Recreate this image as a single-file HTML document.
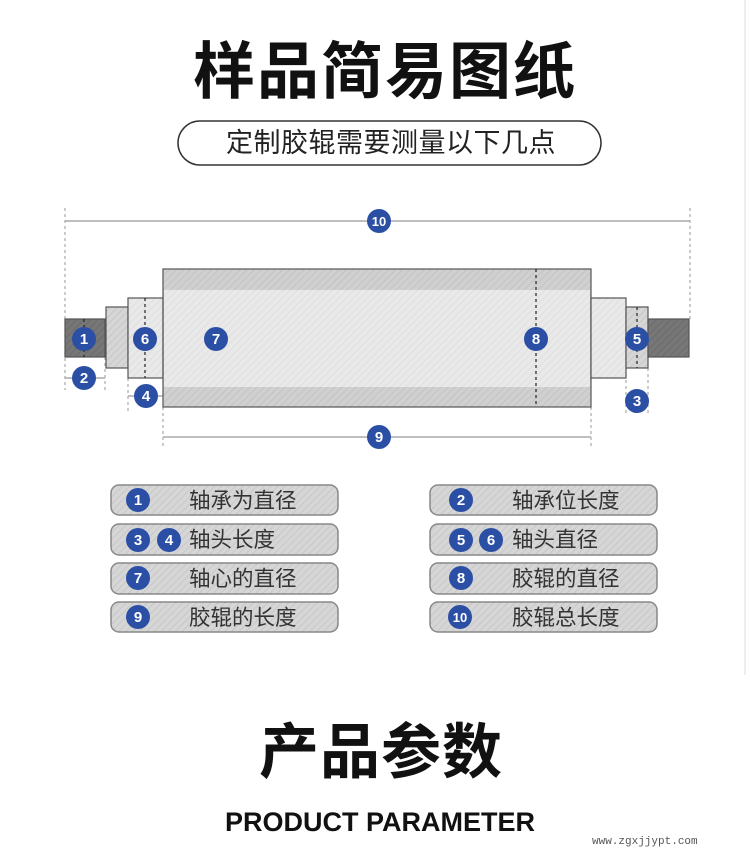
<!DOCTYPE html>
<html><head><meta charset="utf-8"><style>
body{margin:0;background:#fff;width:750px;height:861px;overflow:hidden;font-family:"Liberation Sans","Noto Sans CJK SC",sans-serif}
svg{position:absolute;left:0;top:0}
</style></head><body>
<svg width="750" height="861" viewBox="0 0 750 861" xmlns="http://www.w3.org/2000/svg" font-family="Liberation Sans, Noto Sans CJK SC, sans-serif">
<defs>
<pattern id="hl" width="5" height="5" patternUnits="userSpaceOnUse" patternTransform="rotate(45)"><rect width="5" height="5" fill="#e9e9e9"/><line x1="0" y1="0" x2="0" y2="5" stroke="#dcdcdc" stroke-width="1.5"/></pattern>
<pattern id="hm" width="5" height="5" patternUnits="userSpaceOnUse" patternTransform="rotate(45)"><rect width="5" height="5" fill="#d0d0d0"/><line x1="0" y1="0" x2="0" y2="5" stroke="#bfbfbf" stroke-width="1.5"/></pattern>
<pattern id="hd" width="5" height="5" patternUnits="userSpaceOnUse" patternTransform="rotate(45)"><rect width="5" height="5" fill="#777"/><line x1="0" y1="0" x2="0" y2="5" stroke="#666" stroke-width="1.5"/></pattern>
<pattern id="hb" width="5" height="5" patternUnits="userSpaceOnUse" patternTransform="rotate(45)"><rect width="5" height="5" fill="#d6d6d6"/><line x1="0" y1="0" x2="0" y2="5" stroke="#c2c2c2" stroke-width="1.5"/></pattern>
</defs>
<line x1="745" y1="0" x2="745" y2="675" stroke="#eee" stroke-width="2"/>
<text x="385" y="93" text-anchor="middle" font-size="62" font-weight="bold" fill="#111" letter-spacing="2">样品简易图纸</text>
<rect x="178" y="121" width="423" height="44" rx="22" fill="#fff" stroke="#333" stroke-width="1.5"/>
<text x="391" y="152" text-anchor="middle" font-size="27" fill="#222" letter-spacing="0.5">定制胶辊需要测量以下几点</text>

<g stroke="#aaa" stroke-width="1.5" fill="none">
<line x1="65" y1="221" x2="690" y2="221"/>
<line x1="163" y1="437" x2="591" y2="437"/>
<line x1="65" y1="378" x2="105" y2="378"/>
<line x1="128" y1="396" x2="163" y2="396"/>
</g>
<g stroke="#aaa" stroke-width="1.2" stroke-dasharray="3,3" fill="none">
<line x1="65" y1="208" x2="65" y2="390"/>
<line x1="690" y1="208" x2="690" y2="319"/>
<line x1="105" y1="357" x2="105" y2="390"/>
<line x1="128" y1="378" x2="128" y2="414"/>
<line x1="163" y1="407" x2="163" y2="449"/>
<line x1="591" y1="407" x2="591" y2="449"/>
<line x1="626" y1="368" x2="626" y2="414"/>
<line x1="648" y1="368" x2="648" y2="414"/>
</g>
<g stroke="#555" stroke-width="1.2">
<rect x="65" y="319" width="40" height="38" fill="url(#hd)"/>
<rect x="106" y="307" width="22" height="61" fill="url(#hb)"/>
<rect x="128" y="298" width="35" height="80" fill="url(#hl)"/>
<rect x="163" y="269" width="428" height="138" fill="url(#hm)"/>
<rect x="591" y="298" width="35" height="80" fill="url(#hl)"/>
<rect x="626" y="307" width="22" height="61" fill="url(#hb)"/>
<rect x="648" y="319" width="41" height="38" fill="url(#hd)"/>
</g>
<rect x="164" y="290" width="426" height="97" fill="url(#hl)"/>
<g stroke="#222" stroke-width="1.2" stroke-dasharray="3,3">
<line x1="536" y1="269" x2="536" y2="407"/>
<line x1="145" y1="298" x2="145" y2="378"/>
<line x1="637" y1="307" x2="637" y2="368"/>
<line x1="84" y1="319" x2="84" y2="357"/>
</g>
<g font-weight="bold" font-size="15" fill="#fff" text-anchor="middle">
<g fill="#2a4fa5"><circle cx="379" cy="221" r="12"/><circle cx="84" cy="339" r="12"/><circle cx="84" cy="378" r="12"/><circle cx="145" cy="339" r="12"/><circle cx="146" cy="396" r="12"/><circle cx="216" cy="339" r="12"/><circle cx="536" cy="339" r="12"/><circle cx="637" cy="339" r="12"/><circle cx="637" cy="401" r="12"/><circle cx="379" cy="437" r="12"/></g>
<text x="379" y="226" font-size="13">10</text><text x="84" y="344">1</text><text x="84" y="383">2</text><text x="145" y="344">6</text><text x="146" y="401">4</text><text x="216" y="344">7</text><text x="536" y="344">8</text><text x="637" y="344">5</text><text x="637" y="406">3</text><text x="379" y="442">9</text>
</g>

<g stroke="#888" stroke-width="1.5" fill="url(#hb)">
<rect x="111" y="485" width="227" height="30" rx="8"/><rect x="111" y="524" width="227" height="31" rx="8"/><rect x="111" y="563" width="227" height="31" rx="8"/><rect x="111" y="602" width="227" height="30" rx="8"/>
<rect x="430" y="485" width="227" height="30" rx="8"/><rect x="430" y="524" width="227" height="31" rx="8"/><rect x="430" y="563" width="227" height="31" rx="8"/><rect x="430" y="602" width="227" height="30" rx="8"/>
</g>
<g fill="#2a4fa5">
<circle cx="138" cy="500" r="12"/><circle cx="138" cy="540" r="12"/><circle cx="169" cy="540" r="12"/><circle cx="138" cy="578" r="12"/><circle cx="138" cy="617" r="12"/>
<circle cx="461" cy="500" r="12"/><circle cx="461" cy="540" r="12"/><circle cx="491" cy="540" r="12"/><circle cx="461" cy="578" r="12"/><circle cx="460" cy="617" r="12"/>
</g>
<g font-weight="bold" font-size="15" fill="#fff" text-anchor="middle">
<text x="138" y="505">1</text><text x="138" y="545">3</text><text x="169" y="545">4</text><text x="138" y="583">7</text><text x="138" y="622">9</text>
<text x="461" y="505">2</text><text x="461" y="545">5</text><text x="491" y="545">6</text><text x="461" y="583">8</text><text x="460" y="622" font-size="13">10</text>
</g>
<g font-size="21.5" fill="#333">
<text x="189" y="508">轴承为直径</text><text x="189" y="547">轴头长度</text><text x="189" y="586">轴心的直径</text><text x="189" y="625">胶辊的长度</text>
<text x="512" y="508">轴承位长度</text><text x="512" y="547">轴头直径</text><text x="512" y="586">胶辊的直径</text><text x="512" y="625">胶辊总长度</text>
</g>
<text x="381" y="773" text-anchor="middle" font-size="60" font-weight="bold" fill="#111" letter-spacing="1">产品参数</text>
<text x="380" y="831" text-anchor="middle" font-size="27" fill="#111" font-weight="bold">PRODUCT PARAMETER</text>
<text x="592" y="844" font-size="11" font-family="Liberation Mono, monospace" fill="#555">www.zgxjjypt.com</text>
</svg>
</body></html>
